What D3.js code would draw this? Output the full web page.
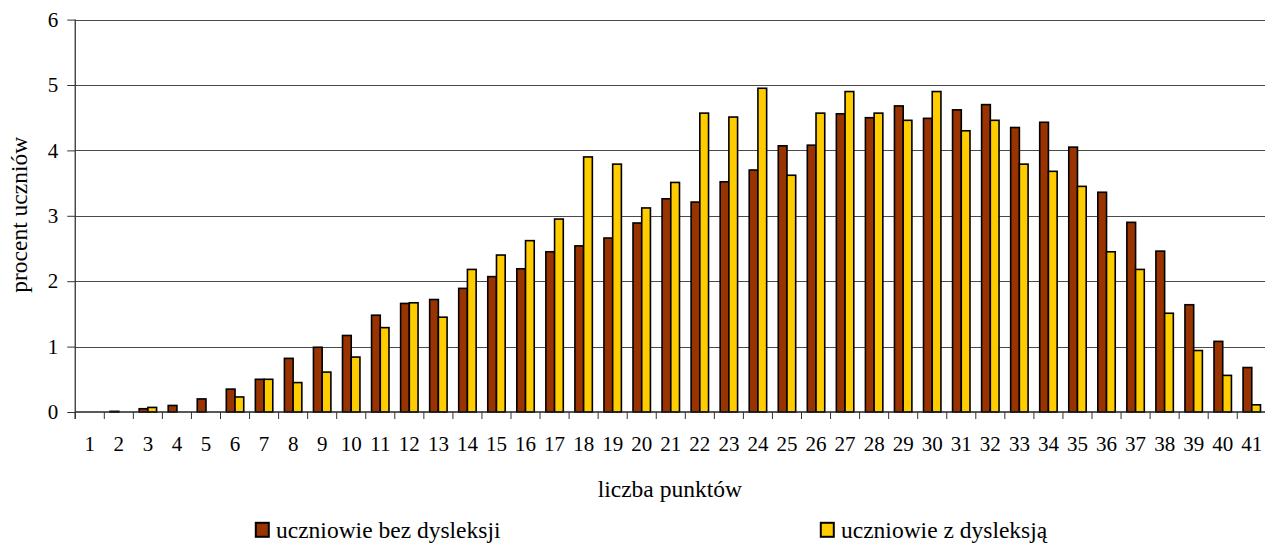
<!DOCTYPE html>
<html>
<head>
<meta charset="utf-8">
<script src="https://cdn.jsdelivr.net/npm/d3@7/dist/d3.min.js"></script>
<style>
  html, body { margin: 0; padding: 0; background: #fff; }
  svg { display: block; font-family: "Liberation Serif", "Times New Roman", serif; }
</style>
</head>
<body>
<svg id="chart" width="1265" height="543"></svg>
<script>
const categories = d3.range(1, 42).map(String);
const seriesNames = ["uczniowie bez dysleksji", "uczniowie z dysleksją"];
const seriesColors = ["#993300", "#FFCC00"];
const bezDysleksji = [0, 0.01, 0.05, 0.10, 0.20, 0.35, 0.50, 0.82, 0.99, 1.17,
  1.48, 1.66, 1.72, 1.89, 2.07, 2.19, 2.45, 2.54, 2.66, 2.89,
  3.26, 3.21, 3.52, 3.70, 4.07, 4.08, 4.56, 4.50, 4.68, 4.49,
  4.62, 4.70, 4.35, 4.43, 4.05, 3.36, 2.90, 2.46, 1.64, 1.08, 0.68];
const zDysleksja = [0, 0, 0.07, 0, 0, 0.23, 0.50, 0.45, 0.61, 0.84,
  1.29, 1.67, 1.45, 2.18, 2.40, 2.62, 2.95, 3.90, 3.79, 3.12,
  3.51, 4.57, 4.51, 4.95, 3.62, 4.57, 4.90, 4.57, 4.46, 4.90,
  4.30, 4.46, 3.79, 3.68, 3.45, 2.45, 2.18, 1.51, 0.94, 0.56, 0.11];
const yTicks = [0, 1, 2, 3, 4, 5, 6];
const xTitle = "liczba punktów";
const yTitle = "procent uczniów";

(function draw() {
const svg = d3.select("#chart");
const mLeft = 75.25, mRight = 1266.3, mTop = 19.6, mBottom = 412;

const x = d3.scaleBand().domain(categories).range([mLeft, mRight]).padding(0);
const bw = x.bandwidth();
const x1 = d3.scaleBand().domain([0, 1]).range([bw * 0.2, bw * 0.8]).padding(0);
const y = d3.scaleLinear().domain([0, 6]).range([mBottom, mTop]);

// gridlines
svg.append("g").selectAll("line").data(yTicks.filter(d => d > 0)).join("line")
  .attr("x1", mLeft).attr("x2", mRight)
  .attr("y1", d => Math.round(y(d)) + 0.5).attr("y2", d => Math.round(y(d)) + 0.5)
  .attr("stroke", "#4a4a4a").attr("stroke-width", 1);

// bars
const data = categories.map((c, i) => ({c, vals: [bezDysleksji[i], zDysleksja[i]]}));
const groups = svg.append("g").selectAll("g").data(data).join("g")
  .attr("transform", d => `translate(${x(d.c)},0)`);
groups.selectAll("rect").data(d => d.vals.map((v, k) => ({v, k})).filter(e => e.v > 0)).join("rect")
  .attr("x", d => x1(d.k))
  .attr("width", x1.bandwidth())
  .attr("y", d => y(d.v))
  .attr("height", d => y(0) - y(d.v))
  .attr("fill", d => seriesColors[d.k])
  .attr("stroke", "#000").attr("stroke-width", 1.6);

// y axis
const yAxis = d3.axisLeft(y).tickValues(yTicks).tickSize(8).tickPadding(9).tickFormat(d3.format("d"));
const gy = svg.append("g").attr("transform", `translate(${mLeft},0)`).call(yAxis);
gy.select(".domain").remove();
gy.append("line").attr("x1", 0).attr("x2", 0).attr("y1", mTop).attr("y2", mBottom + 7)
  .attr("stroke", "#333").attr("stroke-width", 1.3);
gy.selectAll(".tick line").attr("stroke", "#333");
gy.selectAll(".tick text").attr("font-size", 21).attr("fill", "#000")
  .attr("font-family", "Liberation Serif, serif");

// x axis
const xAxis = d3.axisBottom(x).tickSize(0).tickPadding(24);
const gx = svg.append("g").attr("transform", `translate(0,${mBottom})`).call(xAxis);
gx.select(".domain").attr("stroke", "#222").attr("stroke-width", 1.3)
  .attr("d", `M${mLeft},0H${mRight}`);
gx.selectAll(".tick text").attr("font-size", 21).attr("fill", "#000")
  .attr("font-family", "Liberation Serif, serif");
gx.append("g").selectAll("line").data(d3.range(0, categories.length + 1)).join("line")
  .attr("x1", i => mLeft + i * bw).attr("x2", i => mLeft + i * bw)
  .attr("y1", 0).attr("y2", 7)
  .attr("stroke", "#333").attr("stroke-width", 1);

// axis titles
svg.append("text").attr("x", (mLeft + mRight) / 2 - 1).attr("y", 497)
  .attr("text-anchor", "middle").attr("font-size", 23.5).text(xTitle);
svg.append("text").attr("transform", `translate(27,${(mTop + mBottom) / 2 - 1}) rotate(-90)`)
  .attr("text-anchor", "middle").attr("font-size", 23.5).text(yTitle);

// legend
const legendX = [255, 820];
const leg = svg.append("g").selectAll("g").data(seriesNames).join("g")
  .attr("transform", (d, i) => `translate(${legendX[i]},522)`);
leg.append("rect").attr("x", 0.8).attr("y", 0.8).attr("width", 13).attr("height", 14)
  .attr("fill", (d, i) => seriesColors[i]).attr("stroke", "#000").attr("stroke-width", 2);
leg.append("text").attr("x", 21).attr("y", 16).attr("font-size", 23.5).text(d => d);
})();
</script>
</body>
</html>
